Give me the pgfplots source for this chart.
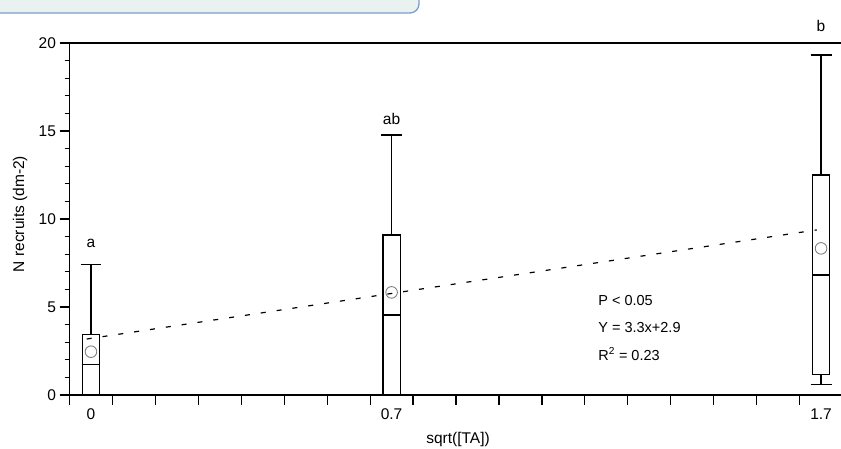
\documentclass[border=0pt]{standalone}
\usepackage{pgfplots}
\pgfplotsset{compat=1.18}
\usepgfplotslibrary{statistics}
\usepackage{fontspec}
\setmainfont{Liberation Sans}
\definecolor{bannerfill}{HTML}{E9F1F1}
\definecolor{bannerline}{HTML}{7F9BCC}
\newcommand\fs{\fontsize{15.5bp}{18bp}\selectfont}
\newcommand\fsb{\fontsize{14.5bp}{17bp}\selectfont}
\begin{document}
\begin{tikzpicture}[x=1bp,y=1bp]
\useasboundingbox (0,0) rectangle (841,449);
\filldraw[fill=bannerfill, draw=bannerline, line width=1.3bp, rounded corners=9bp] (-10,470) -- (-10,436) -- (419,436) -- (419,470) -- cycle;
\begin{axis}[
  at={(69.5bp,54bp)}, anchor=south west,
  scale only axis, width=773bp, height=352bp,
  xmin=-0.05, xmax=1.75, ymin=0, ymax=20,
  axis x line*=bottom, axis y line*=left,
  axis line style={line width=1.3bp, -},
  clip=false,
  tick align=outside,
  major tick length=10bp, minor tick length=5bp,
  every tick/.style={black, line width=1.2bp},
  ytick={0,5,10,15,20}, minor y tick num=4,
  xtick={-0.05,0.05,0.15,0.25,0.35,0.45,0.55,0.65,0.75,0.85,0.95,1.05,1.15,1.25,1.35,1.45,1.55,1.65,1.75},
  xticklabels={},
  extra x ticks={0,0.7,1.7}, extra x tick labels={0,0.7,1.7},
  extra x tick style={tick style={draw=none}},
  tick label style={font=\fs},
  /pgf/number format/assume math mode=true,
  boxplot/draw direction=y,
]
\draw[line width=1.3bp] (rel axis cs:0,1) -- (rel axis cs:1,1);
\addplot[black, line width=1.2bp, dash pattern=on 5bp off 11bp] coordinates {(-0.01,3.18) (1.69,9.38)};
\addplot[black, line width=1.3bp, boxplot prepared={draw position=0, lower whisker=0, lower quartile=0, median=1.72, upper quartile=3.43, upper whisker=7.40, box extend=0.041, whisker extend=0.047}] coordinates {};
\addplot[black, line width=1.3bp, boxplot prepared={draw position=0.7, lower whisker=0, lower quartile=0, median=4.55, upper quartile=9.09, upper whisker=14.77, box extend=0.040, whisker extend=0.048}] coordinates {};
\addplot[black, line width=1.3bp, boxplot prepared={draw position=1.7, lower whisker=0.6, lower quartile=1.17, median=6.82, upper quartile=12.5, upper whisker=19.32, box extend=0.039, whisker extend=0.049}] coordinates {};
\addplot[only marks, mark=o, mark size=5.8bp, mark options={draw=gray, line width=0.9bp}] coordinates {(0,2.46) (0.7,5.83) (1.7,8.33)};
\node[font=\fs] at (axis cs:0,8.6) {a};
\node[font=\fs] at (axis cs:0.7,15.7) {ab};
\node[font=\fs] at (axis cs:1.7,20.97) {b};
\node[font=\fsb, anchor=west, inner sep=0pt] at (axis cs:1.181,5.36) {P < 0.05};
\node[font=\fsb, anchor=west, inner sep=0pt] at (axis cs:1.181,3.85) {Y = 3.3x+2.9};
\node[font=\fsb, anchor=west, inner sep=0pt] at (axis cs:1.181,2.33) {R\textsuperscript{2} = 0.23};
\end{axis}
\node[font=\fs] at (458,10) {sqrt([TA])};
\node[font=\fs, rotate=90] at (20,235) {N recruits (dm-2)};
\end{tikzpicture}
\end{document}
